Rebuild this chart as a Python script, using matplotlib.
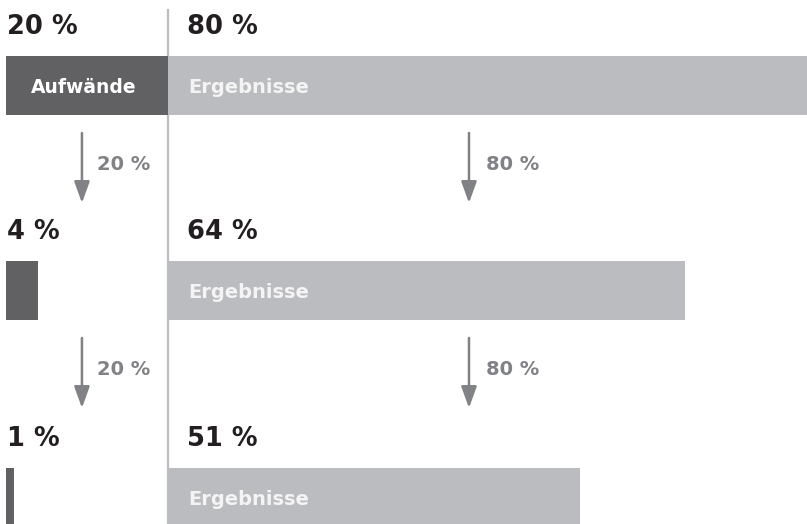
import matplotlib.pyplot as plt

# values (percent)
aufwand = [20, 4, 1]
ergebnis = [80, 64, 51]
aufwand_labels = ['20 %', '4 %', '1 %']
ergebnis_labels = ['80 %', '64 %', '51 %']
step_labels = ['20 %', '80 %']

dark = '#616163'
light = '#bbbcc0'
arrow_col = '#818286'
text_col = '#231f20'

W, H = 807, 524
px = 8.08  # pixels per percent

fig = plt.figure(figsize=(W / 100, H / 100), dpi=100)
ax = fig.add_axes([0, 0, 1, 1])
ax.set_xlim(-6 / px, (W - 6) / px)
ax.set_ylim(H, 0)
ax.axis('off')

row_top = [56, 261, 468]
bar_h = 59
split = aufwand[0]  # where the Ergebnisse bars start

ax.plot([split, split], [9, H], color=light, lw=1.6, zorder=1, solid_capstyle='butt')

for i in range(3):
    top = row_top[i]
    ax.barh(top, aufwand[i], height=bar_h, left=0, align='edge', color=dark, zorder=2)
    ax.barh(top, ergebnis[i], height=bar_h, left=split, align='edge', color=light, zorder=2)

    ax.text(0.12, top - 22, aufwand_labels[i], fontsize=18.5, fontweight='bold',
            color=text_col, va='baseline', ha='left')
    ax.text(22.4, top - 22, ergebnis_labels[i], fontsize=18.5, fontweight='bold',
            color=text_col, va='baseline', ha='left')

    ax.text(split + 2.5, top + 37, 'Ergebnisse', fontsize=14, fontweight='bold',
            color='#f4f4f4', va='baseline', ha='left', zorder=3)
    if i == 0:
        ax.text(aufwand[0] / 2 - 0.4, top + 37, 'Aufwände', fontsize=13.5, fontweight='bold',
                color='white', va='baseline', ha='center', zorder=3)

    # arrows between rows
    if i < 2:
        bottom = top + bar_h
        for xa, xl, lab in [(9.4, 11.3, step_labels[0]), (57.3, 59.4, step_labels[1])]:
            ax.annotate('', xy=(xa, bottom + 88), xytext=(xa, bottom + 18),
                        arrowprops=dict(arrowstyle='-|>,head_length=1.3,head_width=0.47',
                                        color=arrow_col, lw=1.8, mutation_scale=10,
                                        shrinkA=0, shrinkB=0))
            ax.text(xl, bottom + 55, lab, fontsize=14, fontweight='bold',
                    color=arrow_col, va='baseline', ha='left')

fig.savefig('out.png', dpi=100)
